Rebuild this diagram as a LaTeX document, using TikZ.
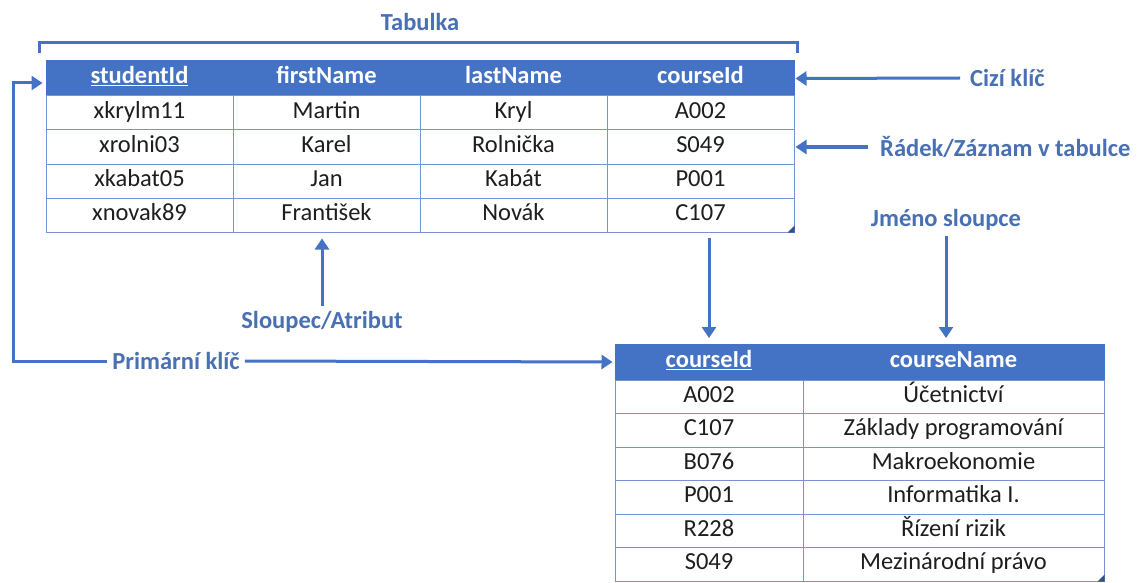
\documentclass[tikz,border=0pt]{standalone}
\usepackage{fontspec}
\setmainfont{Carlito}
\usetikzlibrary{arrows.meta}

\definecolor{tblue}{RGB}{68,114,196}
\definecolor{lblue}{RGB}{72,112,178}
\definecolor{gridblue}{RGB}{118,148,212}
\definecolor{ink}{RGB}{30,30,30}

\tikzset{
  cell/.style={draw=gridblue, line width=1pt, inner sep=0pt, minimum height=34pt,
    text height=16pt, text depth=5pt,
    text=ink, font=\fontsize{24.5}{28}\selectfont},
  headcell/.style={cell, fill=tblue, draw=tblue, minimum height=35pt,
    text=white, font=\fontsize{24.5}{28}\selectfont\bfseries},
  lbl/.style={text=lblue, inner sep=5pt, font=\fontsize{24.5}{28}\selectfont\bfseries},
  arr/.style={draw=tblue, line width=3pt, -{Triangle[length=11pt,width=14pt]}},
  handle/.style={fill=tblue!70!black}
}

\begin{document}
\begin{tikzpicture}[x=1pt,y=-1pt]
  \useasboundingbox[fill=white] (0,0) rectangle (1140,583);

  % student table
  \foreach \name [count=\c] in {\underline{studentId},firstName,lastName,courseId}
    \node[headcell, minimum width=187pt] (th\c) at ({46+187*\c-93.5},78.5) {\name};
  \foreach \a/\b/\e/\d [count=\r] in {xkrylm11/Martin/Kryl/A002,
      xrolni03/Karel/Rolnička/S049, xkabat05/Jan/Kabát/P001,
      xnovak89/František/Novák/C107} {
    \node[cell, minimum width=187pt] (t\r-1) at (139.5,{96+34*\r-17}) {\a};
    \node[cell, minimum width=187pt] (t\r-2) at (326.5,{96+34*\r-17}) {\b};
    \node[cell, minimum width=187pt] (t\r-3) at (513.5,{96+34*\r-17}) {\e};
    \node[cell, minimum width=187pt] (t\r-4) at (700.5,{96+34*\r-17}) {\d};
  }
  \fill[handle] (t4-4.south east) -- ++(-7,0) -- ++(7,-7) -- cycle;

  % course table
  \node[headcell, minimum width=188pt] (bh1) at (709,362) {\underline{courseId}};
  \node[headcell, minimum width=301pt] (bh2) at (953.5,362) {courseName};
  \foreach \a/\b [count=\r] in {A002/Účetnictví, C107/Základy programování,
      B076/Makroekonomie, P001/Informatika I., R228/Řízení rizik,
      S049/Mezinárodní právo} {
    \node[cell, minimum width=188pt, minimum height=33.5pt] (b\r-1) at (709,{380+33.5*\r-16.75}) {\a};
    \node[cell, minimum width=301pt, minimum height=33.5pt] (b\r-2) at (953.5,{380+33.5*\r-16.75}) {\b};
  }
  \fill[handle] (b6-2.south east) -- ++(-7,0) -- ++(7,-7) -- cycle;

  % labels
  \node[lbl] (tabulka) at (420,22) {Tabulka};
  \node[lbl, anchor=west, inner sep=10pt] (cizi) at (960,78) {Cizí klíč};
  \node[lbl, anchor=west, inner sep=12pt] (radek) at (868,147) {Řádek/Záznam v tabulce};
  \node[lbl] (jmeno) at (946,220) {Jméno sloupce};
  \node[lbl] (sloupec) at (322,322) {Sloupec/Atribut};
  \node[lbl] (primar) at (176,361) {Primární klíč};
  \coordinate (pk) at (13,83);

  \draw[draw=tblue, line width=3pt] (39,53) |- (797,43) -- (797,53);
  \draw[arr, shorten >=1pt] (cizi.west) -- (th4.east);
  \draw[arr, shorten >=1pt] (radek.west) -- (t2-4.east);
  \draw[arr, shorten >=6pt] (jmeno.south) -- (jmeno.south |- bh2.north);
  \draw[arr, shorten <=5pt, shorten >=6pt] (bh1.north |- t4-4.south) -- (bh1.north);
  \draw[arr, shorten >=6pt] (sloupec.north) -- (sloupec.north |- t4-2.south);
  \draw[arr, shorten >=2pt] (primar.east) -- (bh1.west);
  \draw[arr, shorten >=3pt] (primar.west) -| (pk) -- (pk -| th1.west);
\end{tikzpicture}
\end{document}
